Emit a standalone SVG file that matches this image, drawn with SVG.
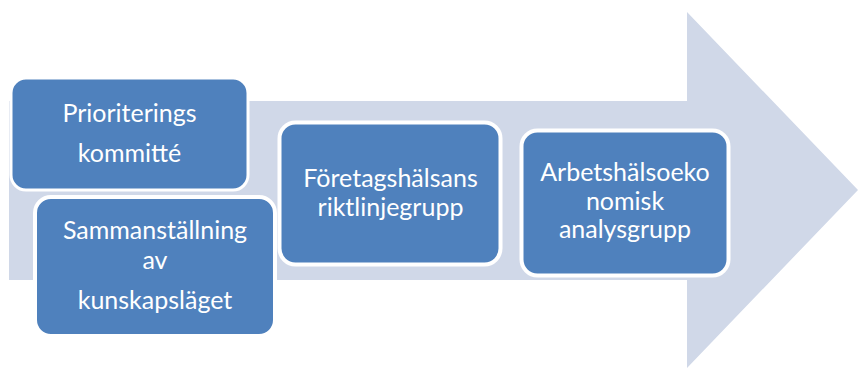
<svg xmlns="http://www.w3.org/2000/svg" width="859" height="369" viewBox="0 0 859 369">
<style>
.box{fill:#4F81BD;stroke:#FFFFFF;stroke-width:4}
.t{font-family:Lato,"Liberation Sans",sans-serif;font-size:25px;fill:#FFFFFF;text-anchor:middle}
</style>
<rect width="859" height="369" fill="#FFFFFF"/>
<g id="arrow">
<polygon points="9,101 687,101 687,12 858,190 687,368 687,280 9,280" fill="#D0D8E8"/>
</g>
<g id="connectors"></g>
<g id="node1">
<rect class="box" x="11" y="78" width="237" height="112" rx="15" style="stroke-width:3"/>
<text class="t" x="129.5" y="122">Prioriterings</text>
<text class="t" x="129.5" y="162">kommitté</text>
</g>
<g id="node2">
<rect class="box" x="35" y="197" width="240" height="139" rx="16"/>
<text class="t" x="155" y="239">Sammanställning</text>
<text class="t" x="155" y="269">av</text>
<text class="t" x="155" y="309">kunskapsläget</text>
</g>
<g id="node3">
<rect class="box" x="279.5" y="122.5" width="221" height="142" rx="16"/>
<text class="t" x="390.5" y="187">Företagshälsans</text>
<text class="t" x="390.5" y="216">riktlinjegrupp</text>
</g>
<g id="node4">
<rect class="box" x="521.5" y="130.5" width="207" height="145" rx="16"/>
<text class="t" x="625" y="181">Arbetshälsoeko</text>
<text class="t" x="625" y="210">nomisk</text>
<text class="t" x="625" y="238">analysgrupp</text>
</g>
</svg>
